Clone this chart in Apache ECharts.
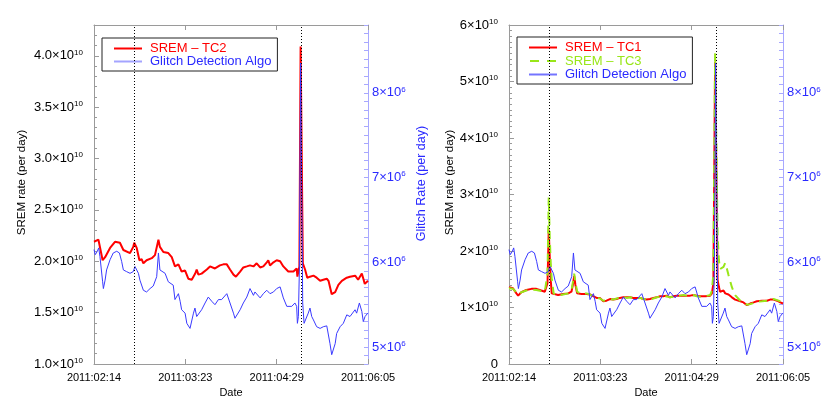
<!DOCTYPE html>
<html>
<head>
<meta charset="utf-8">
<script src="https://cdn.jsdelivr.net/npm/echarts@6/dist/echarts.min.js"></script>
<style>
  html, body { margin: 0; padding: 0; background: #fff; }
  #chart { width: 830px; height: 415px; }
</style>
</head>
<body>
<div id="chart"></div>
<script>
// x positions are days since 2011-02-14
const dateLabels = ['2011:02:14', '2011:03:23', '2011:04:29', '2011:06:05'];
const eventDays = [16.2, 83.8];

// SREM TC2 (x1e10 per day), left panel
const tc2Days = [0, 0.8, 1.8, 2.4, 3.5, 4.5, 6.5, 8.5, 10.5, 11.9, 14.6, 15.9, 16.3, 17.3, 18.4, 19.3, 20, 21.3,
  23.4, 24.7, 26.1, 26.7, 28.1, 30.1, 31.5, 32.1, 32.8, 34.2, 35.5, 36.9, 38.2, 39.6, 41, 41.6, 42.3, 43.6,
  45.7, 47, 49, 51, 52.4, 53.8, 55.1, 56.5, 57.5, 59.2, 60.5, 61.9, 63.2, 64.6, 65.9, 67.3, 68.6, 70, 70.6,
  71.3, 72.7, 74, 75.4, 76.7, 78.7, 80.8, 82.1, 82.4, 83.2, 83.7, 84.6, 85.5, 86.4, 87.5, 88.9, 90.2, 91.6,
  92.9, 94.3, 95, 96.3, 97.7, 99, 100.4, 102.4, 103.7, 105.8, 107, 108.5, 109, 109.7, 111];
const tc2 = [2.19, 2.18, 2.21, 2.20, 2.01, 2.04, 2.13, 2.19, 2.18, 2.11, 2.08, 2.14, 2.18, 2.13, 2.01, 2.02, 1.98, 2.01,
  2.03, 2.06, 2.21, 2.14, 2.09, 2.08, 2.04, 2.03, 1.95, 1.97, 1.90, 1.91, 1.83, 1.82, 1.88, 1.92, 1.87, 1.88,
  1.92, 1.95, 1.93, 1.96, 1.97, 1.97, 1.92, 1.87, 1.85, 1.90, 1.94, 1.95, 1.96, 1.95, 1.98, 1.94, 1.95, 1.99, 2.01,
  1.96, 1.99, 2.01, 2.00, 1.95, 1.90, 1.90, 1.93, 1.85, 1.95, 4.09, 1.98, 1.92, 1.84, 1.85, 1.86, 1.84, 1.81,
  1.82, 1.83, 1.81, 1.68, 1.70, 1.77, 1.81, 1.84, 1.85, 1.86, 1.82, 1.88, 1.84, 1.78, 1.81];

// Glitch detection algo (x1e6 per day), both panels
const glitchDays = [0, 0.5, 1.35, 1.9, 2.4, 3.5, 3.8, 4.5, 5.1, 6.5, 7.8, 9.2, 10.3, 11.2, 11.9, 12.6, 13.2, 14.6,
  15.9, 16.6, 17.3, 18, 18.6, 19.3, 20, 20.7, 21.3, 22.7, 24, 25.4, 26.1, 26.7, 27.4, 28.8, 30.1, 30.8, 32.1,
  32.8, 33.5, 34.2, 34.9, 35.5, 36.2, 36.9, 37.6, 38.2, 38.9, 40.3, 40.9, 41.6, 42.3, 43.6, 45, 46.3, 47.7, 49,
  50.4, 51.7, 53.8, 55.1, 56.5, 57.1, 57.8, 59.2, 60.5, 61.9, 63.2, 64.6, 65.2, 65.9, 67.3, 68.6, 70, 70.6, 71.3,
  72.7, 74, 75.4, 76.7, 78.1, 80.1, 81.4, 82.1, 82.4, 82.8, 83.2, 83.7, 84.55, 85.1, 85.9, 86.8, 87.5, 88.2,
  88.9, 89.55, 90.2, 91.6, 92.9, 94.3, 95, 95.6, 96.3, 97.7, 98.3, 99.7, 100.4, 101, 102.4, 103.1, 103.7,
  105.75, 106.4, 107.5, 108.5, 109.1, 109.8, 110.9];
const glitch = [6.15, 6.09, 6.13, 6.17, 6.07, 5.77, 5.69, 5.79, 5.91, 6.03, 6.11, 6.13, 6.11, 6.01, 5.91, 5.93, 5.89, 5.87,
  5.89, 5.95, 5.93, 5.87, 5.79, 5.81, 5.67, 5.69, 5.65, 5.69, 5.72, 5.83, 6.11, 5.91, 5.93, 5.87, 5.77, 5.79, 5.73,
  5.56, 5.58, 5.63, 5.54, 5.44, 5.46, 5.40, 5.28, 5.26, 5.22, 5.40, 5.46, 5.36, 5.36, 5.44, 5.52, 5.59, 5.54, 5.50,
  5.56, 5.56, 5.63, 5.52, 5.40, 5.34, 5.36, 5.44, 5.52, 5.59, 5.69, 5.61, 5.65, 5.67, 5.58, 5.63, 5.67, 5.69, 5.63,
  5.65, 5.69, 5.71, 5.58, 5.48, 5.48, 5.52, 5.48, 5.28, 5.36, 5.91, 8.35, 5.52, 5.28, 5.26, 5.40, 5.46, 5.36,
  5.32, 5.34, 5.24, 5.22, 5.24, 5.25, 5.24, 5.04, 4.91, 5.04, 5.16, 5.24, 5.26, 5.28, 5.38, 5.36, 5.36,
  5.44, 5.40, 5.52, 5.42, 5.30, 5.36, 5.40];

// SREM TC1 and TC3 (x1e10 per day), right panel
const rightDays = [0, 1.6, 3, 3.7, 5, 7, 9.1, 11.1, 13.1, 14.5, 15.2, 15.6, 16.1, 16.5, 16.9, 17.3, 18.1, 19.9, 21.9,
  24, 25.3, 26, 26.4, 26.9, 27.6, 29.4, 31.4, 32.8, 34.1, 35.5, 36.8, 38.2, 39.5, 40.9, 42.2, 43.6, 44.9, 46.3,
  47.6, 49, 50.4, 51.7, 53.1, 54.4, 55.8, 57.1, 58.5, 59.8, 61.2, 62.5, 63.9, 65.2, 66.6, 67.9, 69.3, 70.7, 72,
  73.4, 74.7, 76.1, 77.4, 79.5, 81.5, 82.2, 82.8, 83.5, 84.5, 85, 85.5, 86.9, 87.6, 88.3, 88.9, 90.3, 91.6,
  93.7, 95, 96.4, 97.7, 99.1, 100.4, 102.5, 104.5, 105.8, 107.2, 108.6, 109.9, 111];
const tc1 = [1.36, 1.34, 1.25, 1.21, 1.27, 1.31, 1.33, 1.33, 1.30, 1.28, 1.28, 1.43, 2.38, 1.90, 1.49, 1.25, 1.22, 1.22, 1.24,
  1.25, 1.28, 1.43, 1.56, 1.40, 1.25, 1.24, 1.24, 1.23, 1.20, 1.17, 1.17, 1.11, 1.12, 1.15, 1.14, 1.15, 1.17, 1.18,
  1.18, 1.18, 1.17, 1.17, 1.17, 1.15, 1.14, 1.15, 1.17, 1.18, 1.20, 1.20, 1.21, 1.18, 1.20, 1.21, 1.21, 1.21, 1.21,
  1.21, 1.22, 1.21, 1.20, 1.20, 1.21, 1.25, 1.43, 5.35, 1.49, 1.37, 1.28, 1.30, 1.25, 1.27, 1.23, 1.18, 1.14,
  1.11, 1.09, 1.04, 1.07, 1.09, 1.11, 1.12, 1.12, 1.14, 1.14, 1.12, 1.09, 1.07];
const tc3 = [1.34, 1.33, 1.27, 1.23, 1.27, 1.30, 1.32, 1.31, 1.29, 1.28, 1.30, 1.60, 2.95, 2.25, 1.80, 1.50, 1.25, 1.21, 1.23,
  1.25, 1.30, 1.48, 1.60, 1.45, 1.28, 1.24, 1.25, 1.23, 1.19, 1.17, 1.16, 1.12, 1.13, 1.15, 1.14, 1.16, 1.17, 1.19,
  1.17, 1.18, 1.17, 1.16, 1.17, 1.15, 1.14, 1.14, 1.16, 1.18, 1.19, 1.19, 1.20, 1.18, 1.19, 1.20, 1.21, 1.22, 1.21,
  1.21, 1.22, 1.20, 1.19, 1.20, 1.22, 1.30, 1.60, 5.50, 2.30, 1.85, 1.68, 1.72, 1.79, 1.68, 1.58, 1.36, 1.22,
  1.12, 1.10, 1.05, 1.06, 1.08, 1.10, 1.11, 1.12, 1.13, 1.15, 1.13, 1.11, 1.10];

const FONT = 'Liberation Sans';
const GRAY = '#9a9a9a';
const LAVENDER = '#a8a8ff';
const BLUE_TXT = '#2a2aff';
const SOLID_ICON = 'path://M0,0H28V2H0Z';
const DASH_ICON = 'path://M0,0H9V2H0Z M17,0H26V2H17Z';

function pairs(xs, ys) {
  return xs.map(function (x, i) { return [x, ys[i]]; });
}

function supRich(color) {
  return {
    b: { color: color, fontFamily: FONT, fontSize: 13 },
    s: { color: color, fontFamily: FONT, fontSize: 8, padding: [0, 0, 7, 0] }
  };
}

function dateAxis(gridIndex) {
  return {
    type: 'value', gridIndex: gridIndex, position: 'bottom',
    min: 0, max: 111, interval: 37,
    name: 'Date', nameLocation: 'middle', nameGap: 21,
    nameTextStyle: { color: '#000', fontFamily: FONT, fontSize: 11 },
    axisLine: { onZero: false, lineStyle: { color: GRAY, width: 1 } },
    axisTick: { inside: true, length: 5, lineStyle: { color: GRAY } },
    axisLabel: {
      color: '#000', fontFamily: FONT, fontSize: 11, margin: 8,
      formatter: function (v) { return dateLabels[Math.round(v / 37)]; }
    },
    splitLine: { show: false }
  };
}

function topAxis(gridIndex) {
  return {
    type: 'value', gridIndex: gridIndex, position: 'top',
    min: 0, max: 111, interval: 37,
    axisLine: { onZero: false, lineStyle: { color: GRAY, width: 1 } },
    axisTick: { inside: true, length: 5, lineStyle: { color: GRAY } },
    axisLabel: { show: false },
    splitLine: { show: false }
  };
}

function glitchAxis(gridIndex) {
  return {
    type: 'value', gridIndex: gridIndex, position: 'right',
    min: 4.8, max: 8.8, interval: 0.1,
    name: 'Glitch Rate (per day)', nameLocation: 'middle', nameRotate: 90, nameGap: 47,
    nameTextStyle: { color: BLUE_TXT, fontFamily: FONT, fontSize: 12.5, padding: [0, 0, 0, 22] },
    axisLine: { onZero: false, lineStyle: { color: LAVENDER, width: 1 } },
    axisTick: { inside: true, length: 4, lineStyle: { color: LAVENDER } },
    axisLabel: {
      margin: 4, rich: supRich(BLUE_TXT),
      formatter: function (v) {
        return Math.abs(v - Math.round(v)) < 1e-6 ? '{b|' + Math.round(v) + '×10}{s|6}' : '';
      }
    },
    splitLine: { show: false }
  };
}

const dotted = {
  silent: true, symbol: 'none', label: { show: false },
  lineStyle: { color: '#000', width: 1, type: [1, 2] },
  data: eventDays.map(function (d) { return { xAxis: d }; })
};

const legendBase = {
  orient: 'vertical', selectedMode: false,
  itemWidth: 28, itemHeight: 2, padding: [4, 6, 3, 12],
  borderColor: '#222', borderWidth: 1, backgroundColor: '#fff',
  itemStyle: { borderWidth: 0 },
  textStyle: { fontFamily: FONT, fontSize: 13, lineHeight: 13, padding: [0, 0, 0, 3] }
};

const chart = echarts.init(document.getElementById('chart'));
chart.setOption({
  animation: false,
  backgroundColor: '#fff',
  grid: [
    { left: 94, top: 25, width: 274, height: 339, outerBoundsMode: 'none' },
    { left: 509, top: 25, width: 274, height: 339, outerBoundsMode: 'none' }
  ],
  legend: [
    Object.assign({}, legendBase, {
      left: 102, top: 38, itemGap: 0,
      data: [
        { name: 'SREM – TC2', icon: SOLID_ICON, itemStyle: { color: '#ff0000' }, textStyle: { color: '#ff0000' } },
        { name: 'Glitch Detection Algo', icon: SOLID_ICON, itemStyle: { color: '#a4a4ff' }, textStyle: { color: BLUE_TXT } }
      ]
    }),
    Object.assign({}, legendBase, {
      left: 517, top: 37, itemGap: 0.5,
      data: [
        { name: 'SREM – TC1', icon: SOLID_ICON, itemStyle: { color: '#ff0000' }, textStyle: { color: '#ff0000' } },
        { name: 'SREM – TC3', icon: DASH_ICON, itemStyle: { color: '#99e619' }, textStyle: { color: '#99e619' } },
        { name: 'Glitch Detection Algo', icon: SOLID_ICON, itemStyle: { color: '#7474ff' }, textStyle: { color: BLUE_TXT } }
      ]
    })
  ],
  xAxis: [dateAxis(0), topAxis(0), dateAxis(1), topAxis(1)],
  yAxis: [
    {
      type: 'value', gridIndex: 0, position: 'left',
      min: 1.0, max: 4.3, interval: 0.5,
      name: 'SREM rate (per day)', nameLocation: 'middle', nameRotate: 90, nameGap: 66,
      nameTextStyle: { color: '#000', fontFamily: FONT, fontSize: 11.5, padding: [0, 0, 0, 24] },
      axisLine: { onZero: false, lineStyle: { color: GRAY, width: 1 } },
      axisTick: { inside: true, length: 5, lineStyle: { color: GRAY } },
      minorTick: { show: true, splitNumber: 5, length: 3, lineStyle: { color: GRAY } },
      axisLabel: {
        margin: 11, showMaxLabel: false, rich: supRich('#000'),
        formatter: function (v) { return '{b|' + v.toFixed(1) + '×10}{s|10}'; }
      },
      splitLine: { show: false }
    },
    glitchAxis(0),
    {
      type: 'value', gridIndex: 1, position: 'left',
      min: 0, max: 6, interval: 1,
      name: 'SREM rate (per day)', nameLocation: 'middle', nameRotate: 90, nameGap: 52,
      nameTextStyle: { color: '#000', fontFamily: FONT, fontSize: 11.5, padding: [0, 0, 0, 24] },
      axisLine: { onZero: false, lineStyle: { color: GRAY, width: 1 } },
      axisTick: { inside: true, length: 5, lineStyle: { color: GRAY } },
      minorTick: { show: true, splitNumber: 10, length: 3, lineStyle: { color: GRAY } },
      axisLabel: {
        margin: 11, rich: supRich('#000'),
        formatter: function (v) { return v === 0 ? '{b|0}' : '{b|' + v + '×10}{s|10}'; }
      },
      splitLine: { show: false }
    },
    glitchAxis(1)
  ],
  series: [
    {
      name: 'SREM – TC2', type: 'line', xAxisIndex: 0, yAxisIndex: 0,
      data: pairs(tc2Days, tc2), symbol: 'none', color: '#ff0000',
      lineStyle: { color: '#ff0000', width: 2 }, markLine: dotted
    },
    {
      name: 'Glitch Detection Algo', type: 'line', xAxisIndex: 0, yAxisIndex: 1,
      data: pairs(glitchDays, glitch), symbol: 'none', color: '#3a3aff',
      lineStyle: { color: '#3a3aff', width: 1 }
    },
    {
      name: 'SREM – TC1', type: 'line', xAxisIndex: 2, yAxisIndex: 2,
      data: pairs(rightDays, tc1), symbol: 'none', color: '#ff0000',
      lineStyle: { color: '#ff0000', width: 2 }, markLine: dotted
    },
    {
      name: 'SREM – TC3', type: 'line', xAxisIndex: 2, yAxisIndex: 2,
      data: pairs(rightDays, tc3), symbol: 'none', color: '#99e619',
      lineStyle: { color: '#99e619', width: 2, type: [8, 6] }
    },
    {
      name: 'Glitch Detection Algo', type: 'line', xAxisIndex: 2, yAxisIndex: 3,
      data: pairs(glitchDays, glitch), symbol: 'none', color: '#3a3aff',
      lineStyle: { color: '#3a3aff', width: 1 }
    }
  ]
});
</script>
</body>
</html>
